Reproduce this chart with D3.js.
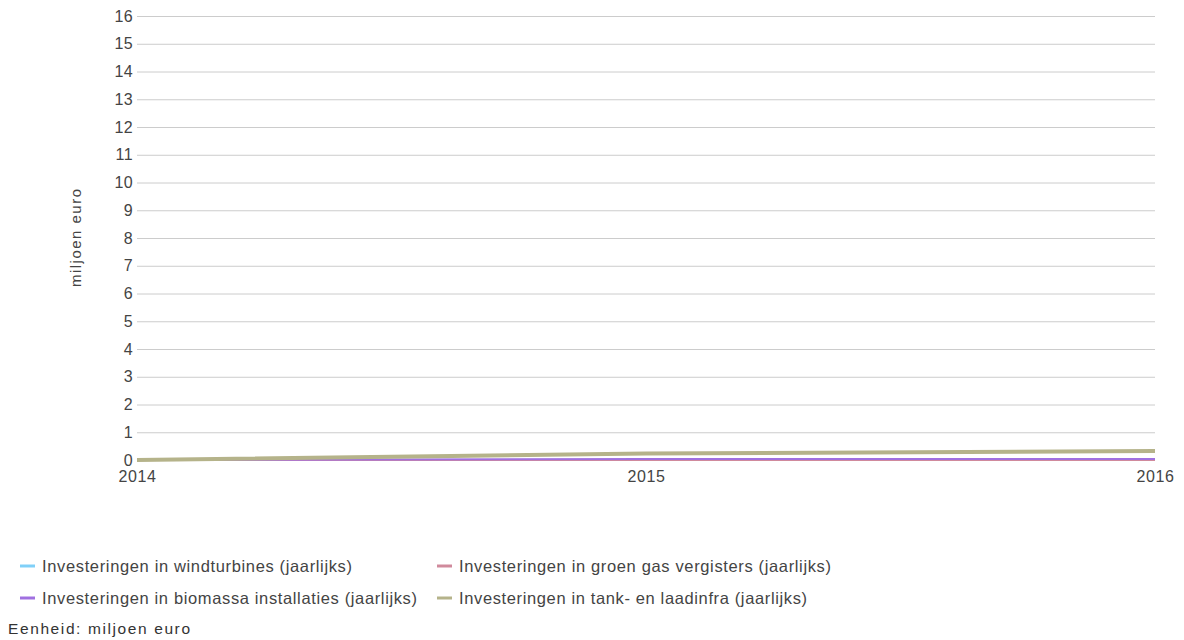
<!DOCTYPE html>
<html>
<head>
<meta charset="utf-8">
<script src="https://cdn.jsdelivr.net/npm/d3@7"></script>
<style>
  body { margin: 0; background: #fff; }
  svg { display: block; font-family: "Liberation Sans", Arial, sans-serif; }
</style>
</head>
<body>
<svg id="chart" width="1184" height="640"></svg>
<script>
// Years on the x axis
const years = [2014, 2015, 2016];

// Yearly investments, million euro
const windturbines = [0, 0, 0];
const groenGas = [0, 0, 0];
const biomassa = [0, 0.04, 0.04];
const tankLaadinfra = [0, 0.23, 0.32];

const seriesNames = [
  "Investeringen in windturbines (jaarlijks)",
  "Investeringen in groen gas vergisters (jaarlijks)",
  "Investeringen in biomassa installaties (jaarlijks)",
  "Investeringen in tank- en laadinfra (jaarlijks)"
];
const seriesColors = ["#80d0f8", "#d08a9c", "#a070e0", "#b5b38a"];
const seriesWidths = [2, 2, 2, 4];

const yTicks = d3.range(0, 17);
const yTitle = "miljoen euro";
const unitNote = "Eenheid: miljoen euro";

const allSeries = [windturbines, groenGas, biomassa, tankLaadinfra];

const svg = d3.select("#chart");
const margin = { left: 137, right: 1155, top: 16, bottom: 460 };

const x = d3.scaleLinear().domain([2014, 2016]).range([margin.left, margin.right]);
const y = d3.scaleLinear().domain([0, 16]).range([margin.bottom, margin.top]);

// Gridlines and y labels
const yAxis = d3.axisLeft(y).tickValues(yTicks).tickSize(-(margin.right - margin.left)).tickPadding(6).tickFormat(d3.format("d"));
const gy = svg.append("g").attr("transform", `translate(${margin.left},0)`).call(yAxis);
gy.select(".domain").remove();
gy.selectAll(".tick line").attr("stroke", "#cccccc").attr("stroke-width", 1);
gy.selectAll(".tick text").attr("fill", "#444").style("font-size", "16px")
  .style("letter-spacing", "0.4px").attr("x", -4);
gy.selectAll(".tick").filter(d => d === 0).select("line").attr("stroke", "#999");

// X labels
const xAxis = d3.axisBottom(x).tickValues(years).tickSize(0).tickPadding(11).tickFormat(d3.format("d"));
const gx = svg.append("g").attr("transform", `translate(0,${margin.bottom})`).call(xAxis);
gx.select(".domain").remove();
gx.selectAll(".tick text").attr("fill", "#444").style("font-size", "16px")
  .style("letter-spacing", "0.6px");

// Y axis title
svg.append("text")
  .attr("transform", `translate(81,${(margin.top + margin.bottom) / 2}) rotate(-90)`)
  .attr("text-anchor", "middle")
  .attr("fill", "#444")
  .style("font-size", "15px")
  .attr("textLength", 98)
  .attr("lengthAdjust", "spacing")
  .text(yTitle);

// Lines
const line = d3.line().x((d, i) => x(years[i])).y(d => y(d));
allSeries.forEach((s, k) => {
  svg.append("path")
    .datum(s)
    .attr("fill", "none")
    .attr("stroke", seriesColors[k])
    .attr("stroke-width", seriesWidths[k])
    .attr("d", line);
});

// Legend
const legendPos = [
  { x: 20, y: 566 }, { x: 437, y: 566 },
  { x: 20, y: 598 }, { x: 437, y: 598 }
];
const legendTextWidths = [310, 372, 375, 348];
seriesNames.forEach((name, k) => {
  const g = svg.append("g").attr("transform", `translate(${legendPos[k].x},${legendPos[k].y})`);
  g.append("line").attr("x1", 0).attr("x2", 15).attr("y1", 0).attr("y2", 0)
    .attr("stroke", seriesColors[k]).attr("stroke-width", 3);
  g.append("text").attr("x", 22).attr("y", 6).attr("fill", "#444")
    .style("font-size", "16.5px")
    .attr("textLength", legendTextWidths[k])
    .attr("lengthAdjust", "spacing")
    .text(name);
});

svg.append("text").attr("x", 8).attr("y", 634).attr("fill", "#333")
  .style("font-size", "15.5px")
  .attr("textLength", 182)
  .attr("lengthAdjust", "spacing")
  .text(unitNote);
</script>
</body>
</html>
